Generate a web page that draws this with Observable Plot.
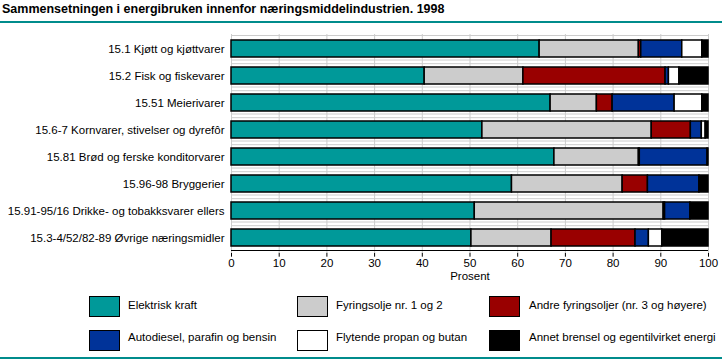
<!DOCTYPE html>
<html>
<head>
<meta charset="utf-8">
<script src="https://cdn.jsdelivr.net/npm/d3@7"></script>
<script src="https://cdn.jsdelivr.net/npm/@observablehq/plot@0.6"></script>
<style>
  html, body { margin: 0; padding: 0; background: #fff; }
  body { width: 722px; height: 361px; position: relative; overflow: hidden; font-family: "Liberation Sans", Arial, sans-serif; }
  #title { position: absolute; left: 2px; top: 2px; font-size: 12.5px; font-weight: bold; color: #000; white-space: nowrap; }
  .hline { position: absolute; left: 0; width: 722px; height: 2px; background: #008c8c; }
  #chart { position: absolute; left: 0; top: 0; }
  .leg { position: absolute; font-size: 11.5px; white-space: nowrap; color: #000; }
  .sw { position: absolute; width: 29px; height: 19px; border: 1px solid #000; box-sizing: content-box; }
</style>
</head>
<body>
<div id="title">Sammensetningen i energibruken innenfor næringsmiddelindustrien. 1998</div>
<div class="hline" style="top:21px"></div>
<div id="chart"></div>
<div id="legend"></div>
<div class="hline" style="top:357px"></div>
<script>
const categories = [
  "15.1 Kjøtt og kjøttvarer",
  "15.2 Fisk og fiskevarer",
  "15.51 Meierivarer",
  "15.6-7 Kornvarer, stivelser og dyrefôr",
  "15.81 Brød og ferske konditorvarer",
  "15.96-98 Bryggerier",
  "15.91-95/16 Drikke- og tobakksvarer ellers",
  "15.3-4/52/82-89 Øvrige næringsmidler"
];
const seriesNames = [
  "Elektrisk kraft",
  "Fyringsolje nr. 1 og 2",
  "Andre fyringsoljer (nr. 3 og høyere)",
  "Autodiesel, parafin og bensin",
  "Flytende propan og butan",
  "Annet brensel og egentilvirket energi"
];
const elektrisk  = [64.6, 40.5, 66.9, 52.6, 67.7, 58.8, 51.0, 50.3];
const fyring12   = [20.8, 20.7,  9.7, 35.5, 17.7, 23.2, 39.6, 16.8];
const andreFyr   = [ 0.5, 29.8,  3.3,  8.2,  0.2,  5.3,  0.3, 17.6];
const autodiesel = [ 8.6,  0.7, 13.0,  2.3, 14.2, 10.8,  5.3,  2.8];
const propan     = [ 4.2,  2.2,  5.8,  0.8,  0.0,  0.0,  0.0,  2.8];
const annet      = [ 1.3,  6.1,  1.3,  0.6,  0.2,  1.9,  3.8,  9.7];
const seriesValues = [elektrisk, fyring12, andreFyr, autodiesel, propan, annet];
const colors = ["#009999", "#cccccc", "#990000", "#003399", "#ffffff", "#000000"];
const xTicks = [0, 10, 20, 30, 40, 50, 60, 70, 80, 90, 100];
const xLabel = "Prosent";

const data = [];
seriesNames.forEach((s, si) => {
  categories.forEach((c, ci) => {
    data.push({category: c, series: s, value: seriesValues[si][ci]});
  });
});

const gapCats = categories.slice(0, -1);
const lastCat = categories[categories.length - 1];

const chart = Plot.plot({
  width: 722,
  height: 290,
  marginLeft: 231,
  marginRight: 14,
  marginTop: 34,
  marginBottom: 37.3,
  style: {fontFamily: "Liberation Sans, Arial, sans-serif", fontSize: "11.5px", color: "#000", background: "transparent"},
  x: {domain: [0, 100], ticks: xTicks, label: xLabel, labelAnchor: "center", labelArrow: "none", labelOffset: 27, tickSize: 4, tickPadding: 2},
  y: {domain: categories, paddingInner: 0.38, paddingOuter: 0.18, label: null, tickSize: 0, tickPadding: 7},
  color: {domain: seriesNames, range: colors},
  marks: [
    Plot.ruleX(xTicks, {stroke: "#cccccc", strokeWidth: 1}),
    Plot.ruleY([categories[0]], {stroke: "#cccccc", dy: -13.5}),
    Plot.ruleY(gapCats, {stroke: "#cccccc", dy: 11}),
    Plot.ruleY(gapCats, {stroke: "#cccccc", dy: 14.7}),
    Plot.barX(data, {x: "value", y: "category", fill: "series", order: seriesNames, stroke: "#000", strokeWidth: 1.5}),
    Plot.ruleY([lastCat], {stroke: "#000", strokeWidth: 1, dy: 12.5})
  ]
});
document.getElementById("chart").appendChild(chart);

// legend
const legPos = [
  {sx: 89, lx: 128}, {sx: 297, lx: 336}, {sx: 489, lx: 529}
];
const rows = [{sy: 296, ly: 299}, {sy: 330, ly: 331}];
const leg = document.getElementById("legend");
seriesNames.forEach((s, i) => {
  const col = i % 3, row = Math.floor(i / 3);
  const sw = document.createElement("div");
  sw.className = "sw";
  sw.style.left = legPos[col].sx + "px";
  sw.style.top = rows[row].sy + "px";
  sw.style.background = colors[i];
  leg.appendChild(sw);
  const t = document.createElement("div");
  t.className = "leg";
  t.style.left = legPos[col].lx + "px";
  t.style.top = rows[row].ly + "px";
  t.textContent = s;
  leg.appendChild(t);
});
</script>
</body>
</html>
